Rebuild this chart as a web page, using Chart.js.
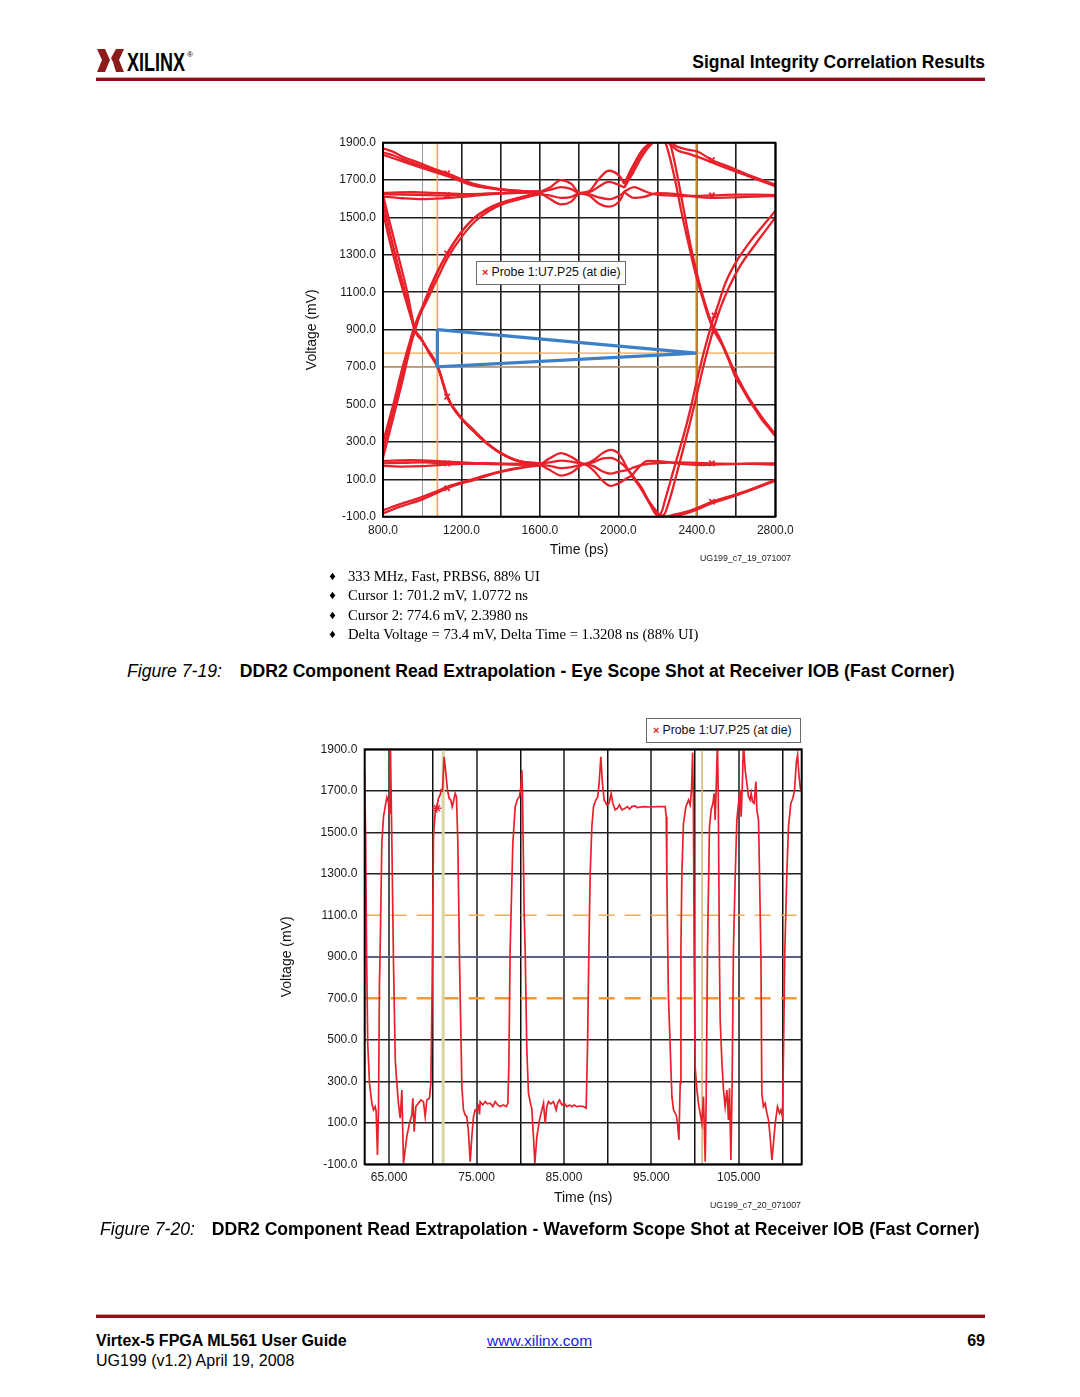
<!DOCTYPE html>
<html><head><meta charset="utf-8">
<script src="https://cdn.jsdelivr.net/npm/chart.js@4.4.1/dist/chart.umd.min.js"></script>
<style>
html,body{margin:0;padding:0;background:#fff}
body{width:1080px;height:1397px;position:relative;overflow:hidden;font-family:'Liberation Sans',Arial,Helvetica,sans-serif;color:#000}
.abs{position:absolute;white-space:nowrap;line-height:1}
.bul{position:absolute;left:328px;font-family:'Liberation Serif','Times New Roman',serif;font-size:14.7px;line-height:1;white-space:nowrap}
.bul span.d{display:inline-block;width:20px;font-family:'DejaVu Sans',sans-serif;font-size:10px;vertical-align:1px}
.cap{position:absolute;font-size:17.6px;line-height:1;white-space:nowrap}
.cap i{font-style:italic;font-weight:normal}
.cap b{font-weight:bold}
.leg{position:absolute;box-sizing:border-box;border:1.5px solid #6a6a6a;background:#fff;font-size:12.3px;line-height:21px;padding-left:5px;white-space:nowrap;color:#111}
.leg .x{color:#e8202a;font-size:11px;font-weight:bold;margin-right:3px}
canvas{position:absolute}
</style>
</head>
<body>
<svg class="abs" style="left:95px;top:46px" width="112" height="32">
  <polygon fill="#8c1b1b" points="2,3 10,3 15,14 10,26 2,26 7,14"/>
  <polygon fill="#8c1b1b" points="29,3 21,3 16,12 18,16 21,26 29,26 24,14"/>
  <text x="32" y="25" font-family="Liberation Sans Narrow, Liberation Sans, Arial" font-weight="bold" font-size="25" textLength="58" lengthAdjust="spacingAndGlyphs">XILINX</text>
  <text x="92" y="11" font-family="Liberation Sans, Arial" font-size="8">®</text>
</svg>
<div class="abs" style="right:95px;top:54px;font-size:17.5px;font-weight:bold">Signal Integrity Correlation Results</div>
<div class="abs" style="left:96px;top:77px;width:889px;height:1px;background:#d9a3a3"></div>
<div class="abs" style="left:96px;top:78px;width:889px;height:3px;background:#8e1016"></div>

<canvas id="eye" width="530" height="460" style="left:280px;top:120px;width:530px;height:460px"></canvas>
<div class="leg" style="left:476px;top:261px;width:150px;height:24px"><span class="x">×</span>Probe 1:U7.P25 (at die)</div>
<div class="abs" style="left:700px;top:553.6px;font-size:8.8px;color:#222">UG199_c7_19_071007</div>

<div class="bul" style="top:568.7px"><span class="d">♦</span>333 MHz, Fast, PRBS6, 88% UI</div>
<div class="bul" style="top:588.2px"><span class="d">♦</span>Cursor 1: 701.2 mV, 1.0772 ns</div>
<div class="bul" style="top:607.7px"><span class="d">♦</span>Cursor 2: 774.6 mV, 2.3980 ns</div>
<div class="bul" style="top:627.2px"><span class="d">♦</span>Delta Voltage = 73.4 mV, Delta Time = 1.3208 ns (88% UI)</div>

<div class="cap" style="left:127px;top:662.5px"><i>Figure 7-19:</i><b style="margin-left:18px">DDR2 Component Read Extrapolation - Eye Scope Shot at Receiver IOB (Fast Corner)</b></div>

<canvas id="wave" width="560" height="530" style="left:260px;top:700px;width:560px;height:530px"></canvas>
<div class="leg" style="left:646px;top:718px;width:155px;height:25px;line-height:22px;padding-left:6px"><span class="x">×</span>Probe 1:U7.P25 (at die)</div>
<div class="abs" style="left:710px;top:1200.6px;font-size:8.8px;color:#222">UG199_c7_20_071007</div>

<div class="cap" style="left:100px;top:1220.5px"><i>Figure 7-20:</i><b style="margin-left:17px">DDR2 Component Read Extrapolation - Waveform Scope Shot at Receiver IOB (Fast Corner)</b></div>

<div class="abs" style="left:96px;top:1314px;width:889px;height:1px;background:#d9a3a3"></div>
<div class="abs" style="left:96px;top:1315px;width:889px;height:3px;background:#8e1016"></div>
<div class="abs" style="left:96px;top:1332.8px;font-size:16px;font-weight:bold">Virtex-5 FPGA ML561 User Guide</div>
<div class="abs" style="left:96px;top:1352.8px;font-size:16px">UG199 (v1.2) April 19, 2008</div>
<div class="abs" style="left:487px;top:1333px;font-size:15.5px;color:#1a1aee;text-decoration:underline">www.xilinx.com</div>
<div class="abs" style="right:95px;top:1332.8px;font-size:16px;font-weight:bold">69</div>

<script>
// ---------------- Figure 7-19 : eye diagram data (time ps, voltage mV) ----------------
const eyeXTickValues = [800, 1200, 1600, 2000, 2400, 2800];
const eyeXTickLabels = ['800.0', '1200.0', '1600.0', '2000.0', '2400.0', '2800.0'];
const eyeGridTimes = [800, 1000, 1200, 1400, 1600, 1800, 2000, 2200, 2400, 2600, 2800];
const eyeLightGridTimes = [1000];
const eyeYTickValues = [-100, 100, 300, 500, 700, 900, 1100, 1300, 1500, 1700, 1900];
const eyeYTickLabels = ['-100.0', '100.0', '300.0', '500.0', '700.0', '900.0', '1100.0', '1300.0', '1500.0', '1700.0', '1900.0'];

const eyeTopTailA = [[800,1870],[850,1852],[900,1825],[990,1790],[1060,1760],[1127,1736],[1200,1705],[1263,1680],[1332,1664],[1434,1647],[1530,1640],[1605,1638]];
const eyeTopTailB = [[800,1848],[850,1833],[900,1812],[990,1778],[1060,1752],[1127,1728],[1200,1698],[1263,1675],[1332,1660],[1434,1645],[1530,1640],[1605,1638]];
const eyeTopTailC = [[800,1835],[900,1800],[990,1768],[1127,1722],[1263,1670],[1400,1650],[1605,1636]];
const eyeHighFlatA = [[800,1625],[900,1622],[1000,1620],[1100,1618],[1200,1622],[1300,1625],[1400,1630],[1500,1632],[1605,1636]];
const eyeHighFlatB = [[800,1612],[900,1603],[1000,1598],[1100,1602],[1200,1610],[1300,1620],[1400,1628],[1500,1633],[1605,1636]];
const eyeHighFlatC = [[800,1632],[950,1635],[1100,1630],[1250,1625],[1400,1630],[1605,1640]];
const eyeRiseLeftA = [[800,257],[850,460],[900,660],[955,900],[1024,1076],[1075,1202],[1127,1308],[1195,1415],[1263,1496],[1332,1542],[1400,1574],[1503,1604],[1605,1625]];
const eyeRiseLeftB = [[800,300],[850,490],[900,700],[960,910],[1030,1070],[1080,1180],[1130,1285],[1200,1395],[1270,1480],[1340,1535],[1420,1575],[1520,1605],[1605,1630]];
const eyeRiseLeftC = [[800,215],[850,420],[900,630],[950,850],[1015,1060],[1070,1195],[1125,1300],[1190,1410],[1260,1492],[1330,1545],[1400,1578],[1500,1608],[1605,1636]];
const eyeFallLeftA = [[800,1620],[827,1504],[870,1326],[921,1112],[964,899],[990,860],[1024,800],[1075,715],[1127,542],[1195,435],[1263,363],[1332,292],[1400,239],[1486,200],[1571,185],[1605,182]];
const eyeFallLeftB = [[800,1580],[830,1440],[875,1250],[925,1050],[960,905],[995,850],[1030,790],[1080,700],[1130,535],[1200,425],[1270,350],[1340,285],[1410,235],[1490,198],[1605,184]];
const eyeFallLeftC = [[800,1530],[835,1370],[880,1190],[930,1010],[970,880],[1000,840],[1035,775],[1085,685],[1135,525],[1205,418],[1275,343],[1345,278],[1420,228],[1500,195],[1605,186]];
const eyeLowFlatA = [[800,185],[900,188],[1000,190],[1100,187],[1200,185],[1300,183],[1400,180],[1500,178],[1605,180]];
const eyeLowFlatB = [[800,172],[900,168],[1000,170],[1100,177],[1200,183],[1300,186],[1400,184],[1500,180],[1605,176]];
const eyeLowFlatC = [[800,198],[950,202],[1100,196],[1250,188],[1400,182],[1605,184]];
const eyeBottomTailA = [[800,-82],[887,-47],[990,-11],[1060,20],[1127,52],[1200,78],[1263,96],[1332,120],[1400,140],[1537,167],[1605,175]];
const eyeBottomTailB = [[800,-66],[887,-33],[990,2],[1060,30],[1127,60],[1200,84],[1263,102],[1332,124],[1400,143],[1537,169],[1605,177]];

const eyeHighMidA = [[1605,1638],[1650,1660],[1708,1700],[1760,1680],[1802,1632],[1850,1640],[1900,1705],[1950,1750],[2007,1720],[2030,1680]];
const eyeHighMidB = [[1605,1630],[1650,1600],[1708,1570],[1760,1585],[1802,1628],[1850,1618],[1900,1575],[1950,1558],[2007,1590],[2030,1640]];
const eyeHighMidC = [[1605,1636],[1650,1648],[1708,1662],[1760,1652],[1802,1630],[1850,1634],[1900,1665],[1950,1690],[2007,1672],[2030,1660]];
const eyeHighMidD = [[1605,1625],[1650,1618],[1708,1605],[1760,1610],[1802,1630],[1850,1625],[1900,1608],[1950,1598],[2007,1618],[2030,1635]];
const eyeLowMidA = [[1605,180],[1650,212],[1708,240],[1760,220],[1826,182],[1870,200],[1920,240],[1960,257],[2007,230],[2050,150],[2070,118]];
const eyeLowMidB = [[1605,176],[1650,150],[1708,120],[1760,135],[1826,180],[1870,150],[1920,92],[1960,65],[2007,82],[2050,110],[2070,118]];
const eyeLowMidC = [[1605,184],[1650,190],[1708,200],[1760,195],[1826,182],[1870,190],[1920,212],[1960,215],[2007,192],[2050,150],[2070,122]];
const eyeLowMidD = [[1605,178],[1650,172],[1708,160],[1760,165],[1826,180],[1870,172],[1920,142],[1960,130],[2007,142],[2050,150],[2070,160]];

const eyeTopArcA = [[2030,1680],[2067,1760],[2118,1850],[2169,1905],[2212,1935],[2255,1920],[2289,1885],[2340,1866],[2409,1850],[2477,1807],[2562,1772],[2665,1727],[2800,1676]];
const eyeTopArcB = [[2030,1660],[2075,1740],[2125,1835],[2175,1900],[2220,1930],[2260,1895],[2300,1860],[2360,1840],[2430,1815],[2477,1795],[2562,1760],[2665,1720],[2800,1668]];
const eyeFallRightA = [[2030,1680],[2118,1855],[2169,1905],[2212,1935],[2240,1900],[2260,1830],[2289,1700],[2323,1522],[2357,1362],[2391,1210],[2426,1080],[2460,965],[2490,890],[2528,820],[2562,739],[2596,649],[2631,587],[2665,524],[2699,471],[2733,417],[2768,373],[2800,330]];
const eyeFallRightB = [[2030,1660],[2110,1830],[2160,1895],[2230,1935],[2262,1900],[2290,1780],[2330,1560],[2370,1340],[2410,1160],[2445,1030],[2478,930],[2510,870],[2545,790],[2580,705],[2620,620],[2660,545],[2700,480],[2740,420],[2780,368],[2800,345]];
const eyeHighFlatRightA = [[2030,1640],[2080,1662],[2130,1642],[2180,1625],[2250,1618],[2350,1615],[2477,1618],[2600,1622],[2700,1622],[2800,1620]];
const eyeHighFlatRightB = [[2030,1635],[2080,1605],[2130,1610],[2200,1630],[2300,1625],[2400,1610],[2477,1605],[2600,1608],[2700,1612],[2800,1615]];
const eyeBottomArcA = [[2070,118],[2110,60],[2150,-10],[2185,-60],[2204,-85],[2240,-98],[2289,-88],[2374,-64],[2477,-20],[2562,7],[2665,43],[2800,97]];
const eyeBottomArcB = [[2070,122],[2120,50],[2160,-30],[2200,-92],[2240,-108],[2300,-95],[2380,-70],[2477,-28],[2562,0],[2665,38],[2800,92]];
const eyeRiseRightA = [[2070,118],[2110,60],[2150,-10],[2185,-60],[2204,-90],[2222,-70],[2238,-11],[2272,114],[2306,239],[2340,363],[2374,506],[2409,667],[2443,809],[2477,934],[2511,1041],[2545,1148],[2596,1255],[2665,1362],[2733,1451],[2800,1535]];
const eyeRiseRightB = [[2070,122],[2120,50],[2160,-30],[2200,-95],[2230,-92],[2255,-30],[2290,100],[2325,240],[2360,380],[2395,530],[2430,690],[2460,810],[2490,920],[2525,1030],[2565,1130],[2620,1240],[2690,1345],[2750,1430],[2800,1500]];
const eyeLowFlatRightA = [[2070,160],[2110,175],[2150,182],[2200,186],[2300,190],[2400,188],[2477,185],[2600,183],[2700,185],[2800,185]];
const eyeLowFlatRightB = [[2070,122],[2100,160],[2150,198],[2220,196],[2320,182],[2420,176],[2520,180],[2650,182],[2800,178]];

const eyeMarkerTimes = [1127, 1127, 1127, 1127, 1127, 1127, 2477, 2477, 2490, 2490, 2477, 2477];
const eyeMarkerVolts = [1736, 1620, 1308, 542, 185, 52, 1807, 1618, 975, 890, 185, -20];

const eyeCursorTimes = [1077.2, 2398.0];   // Cursor 1, Cursor 2 (ps)
const eyeCursorVolts = [701.2, 774.6];     // Cursor 1, Cursor 2 (mV)
const eyeMaskPoints = [[1077.2, 900], [1077.2, 701.2], [2398.0, 774.6], [1077.2, 900]];

// ---------------- Figure 7-20 : waveform data (time ns, voltage mV) ----------------
const waveXTickValues = [65, 75, 85, 95, 105];
const waveXTickLabels = ['65.000', '75.000', '85.000', '95.000', '105.000'];
const waveGridTimes = [65, 70, 75, 80, 85, 90, 95, 100, 105, 110];
const waveYTickValues = [-100, 100, 300, 500, 700, 900, 1100, 1300, 1500, 1700, 1900];
const waveYTickLabels = ['-100.0', '100.0', '300.0', '500.0', '700.0', '900.0', '1100.0', '1300.0', '1500.0', '1700.0', '1900.0'];
const waveThresholds = [1100, 700];
const waveRefLevel = [900];
const waveCursorTimes = [71.18, 100.8];
const waveMarker = [[70.46, 1616]];
const waveTrace = [[62.17,1800],[62.30,1500],[62.42,900],[62.55,480],[62.75,290],[63.02,194],[63.20,162],[63.40,178],[63.51,154],[63.66,-55],[63.78,162],[63.89,772],[63.97,933],[64.16,1447],[64.35,1575],[64.54,1623],[64.74,1669],[64.92,1648],[65.00,1592],[65.08,1930],[65.14,1930],[65.31,1447],[65.49,885],[65.70,400],[65.88,290],[66.06,194],[66.26,122],[66.45,258],[66.64,-95],[66.83,-31],[67.02,33],[67.32,98],[67.60,138],[67.71,218],[67.86,57],[68.05,178],[68.35,194],[68.63,210],[68.92,202],[69.12,130],[69.31,210],[69.61,218],[69.77,290],[69.92,772],[70.07,1479],[70.26,1592],[70.46,1623],[70.64,1664],[70.84,1680],[70.95,1704],[71.10,1700],[71.29,1864],[71.49,1784],[71.67,1704],[71.86,1664],[72.06,1656],[72.21,1623],[72.36,1648],[72.55,1688],[72.70,1672],[72.86,1447],[73.05,885],[73.32,274],[73.50,162],[73.70,138],[73.89,130],[74.07,57],[74.27,-87],[74.46,33],[74.65,130],[74.84,162],[75.03,154],[75.22,178],[75.34,140],[75.41,202],[75.72,186],[75.98,202],[76.25,191],[76.56,194],[76.86,178],[77.13,202],[77.43,186],[77.70,178],[78.08,186],[78.39,178],[78.58,194],[78.69,370],[78.84,930],[79.15,1447],[79.42,1623],[79.68,1659],[79.91,1672],[80.07,1720],[80.18,1800],[80.25,1704],[80.45,1100],[80.56,933],[80.75,451],[80.94,242],[81.21,186],[81.32,170],[81.51,33],[81.67,-95],[81.90,33],[82.20,114],[82.47,162],[82.66,194],[82.85,98],[83.04,178],[83.23,202],[83.50,191],[83.80,202],[84.11,162],[84.26,194],[84.49,210],[84.76,186],[85.02,194],[85.33,178],[85.63,186],[85.90,178],[86.17,186],[86.48,178],[86.86,181],[87.23,178],[87.54,170],[87.69,451],[87.85,933],[88.00,1300],[88.19,1527],[88.38,1623],[88.65,1656],[88.87,1672],[89.02,1736],[89.22,1864],[89.40,1736],[89.60,1656],[89.91,1632],[90.17,1640],[90.40,1688],[90.59,1640],[90.86,1608],[91.12,1616],[91.35,1632],[91.62,1608],[92.00,1616],[92.27,1624],[92.50,1611],[92.77,1624],[93.15,1627],[93.34,1619],[94.10,1624],[94.86,1622],[95.63,1624],[96.58,1624],[96.70,1575],[96.77,1286],[96.89,885],[96.96,700],[97.35,226],[97.53,162],[97.84,138],[97.99,98],[98.15,17],[98.30,290],[98.38,933],[98.49,1300],[98.67,1543],[98.95,1623],[99.25,1656],[99.44,1632],[99.59,1704],[99.72,1885],[99.80,1690],[99.90,885],[100.01,370],[100.21,258],[100.39,194],[100.58,146],[100.78,98],[100.96,226],[101.16,-87],[101.27,210],[101.42,933],[101.65,1527],[101.84,1608],[102.04,1640],[102.19,1688],[102.30,1559],[102.41,1704],[102.56,1930],[102.65,1700],[102.79,885],[102.87,600],[103.06,403],[103.25,258],[103.44,178],[103.64,258],[103.82,114],[103.94,266],[104.10,-79],[104.24,290],[104.39,933],[104.60,1300],[104.78,1559],[104.97,1640],[105.16,1704],[105.27,1575],[105.39,1704],[105.54,1930],[105.73,1800],[105.93,1736],[106.11,1672],[106.30,1656],[106.42,1688],[106.57,1648],[106.76,1640],[106.96,1744],[107.07,1608],[107.26,1559],[107.38,1286],[107.54,885],[107.64,242],[107.82,178],[108.02,194],[108.22,146],[108.40,114],[108.59,33],[108.79,-79],[108.97,2],[109.17,98],[109.43,178],[109.66,146],[109.82,162],[110.00,130],[110.12,451],[110.27,933],[110.50,1300],[110.69,1527],[110.96,1640],[111.19,1664],[111.38,1704],[111.58,1833],[111.73,1873],[111.90,1768],[112.05,1712],[112.25,1690]];

// ---------------- styling & rendering ----------------
const RED = '#e8202a';
Chart.defaults.font.family = "'Liberation Sans', Arial, Helvetica, sans-serif";
Chart.defaults.font.size = 12;
Chart.defaults.color = '#1a1a1a';

const plotBox = {
  id: 'plotBox',
  afterDatasetsDraw(chart, args, opts) {
    const a = chart.chartArea, ctx = chart.ctx;
    ctx.save();
    ctx.strokeStyle = opts.color || '#000';
    ctx.lineWidth = opts.width || 2;
    ctx.strokeRect(a.left, a.top, a.right - a.left, a.bottom - a.top);
    ctx.restore();
  }
};

function lineDs(data, color, width, extra) {
  return Object.assign({ type: 'line', data: data, borderColor: color, backgroundColor: color,
    borderWidth: width, pointRadius: 0, fill: false, tension: 0 }, extra || {});
}
function labelFor(values, labels) {
  return function (v) { const i = values.indexOf(v); return i >= 0 ? labels[i] : ''; };
}
function zip(a, b) { return a.map((t, i) => [t, b[i]]); }

// ----- eye chart -----
const eyeStrands = [
  eyeTopTailA, eyeTopTailB, eyeTopTailC, eyeHighFlatA, eyeHighFlatB, eyeHighFlatC,
  eyeRiseLeftA, eyeRiseLeftB, eyeRiseLeftC, eyeFallLeftA, eyeFallLeftB, eyeFallLeftC,
  eyeLowFlatA, eyeLowFlatB, eyeLowFlatC, eyeBottomTailA, eyeBottomTailB,
  eyeHighMidA, eyeHighMidB, eyeHighMidC, eyeHighMidD, eyeLowMidA, eyeLowMidB, eyeLowMidC, eyeLowMidD,
  eyeTopArcA, eyeTopArcB, eyeFallRightA, eyeFallRightB, eyeHighFlatRightA, eyeHighFlatRightB,
  eyeBottomArcA, eyeBottomArcB, eyeRiseRightA, eyeRiseRightB, eyeLowFlatRightA, eyeLowFlatRightB
];
const eyeDatasets = [];
eyeDatasets.push(lineDs(eyeMaskPoints, '#3d7fc8', 3.2));
eyeDatasets.push(lineDs(zip(eyeMarkerTimes, eyeMarkerVolts), RED, 1.8,
  { showLine: false, pointRadius: 3.8, pointStyle: 'crossRot', pointBorderColor: RED, pointBorderWidth: 1.8 }));
eyeStrands.forEach(s => eyeDatasets.push(lineDs(s, RED, 2.3, { cubicInterpolationMode: 'monotone' })));
eyeDatasets.push(lineDs([[eyeCursorTimes[0], -100], [eyeCursorTimes[0], 1900]], '#f6a54a', 1.6));
eyeDatasets.push(lineDs([[eyeCursorTimes[1], -100], [eyeCursorTimes[1], 1900]], '#c8861e', 2));
eyeDatasets.push(lineDs([[800, eyeCursorVolts[1]], [2800, eyeCursorVolts[1]]], '#f5a545', 1.3));
eyeDatasets.push(lineDs([[800, eyeCursorVolts[0]], [2800, eyeCursorVolts[0]]], '#f2c08c', 1.3));

new Chart(document.getElementById('eye'), {
  type: 'line',
  data: { datasets: eyeDatasets },
  options: {
    responsive: false, animation: false, devicePixelRatio: 1, events: [],
    layout: { padding: { left: 0, top: 22.7, right: 34.7, bottom: 0 } },
    plugins: { legend: { display: false }, tooltip: { enabled: false }, plotBox: { width: 2 } },
    scales: {
      x: {
        type: 'linear', min: 800, max: 2800,
        afterBuildTicks: s => { s.ticks = eyeGridTimes.map(v => ({ value: v })); },
        afterFit: s => { s.height = 63.3; },
        ticks: { autoSkip: false, maxRotation: 0, padding: 7, callback: labelFor(eyeXTickValues, eyeXTickLabels) },
        grid: { drawTicks: false,
          color: c => (c.tick && eyeLightGridTimes.includes(c.tick.value)) ? '#9a9a9a' : '#1e1e1e',
          lineWidth: c => (c.tick && eyeLightGridTimes.includes(c.tick.value)) ? 1 : 1.6 },
        border: { display: false },
        title: { display: true, text: 'Time (ps)', font: { size: 14 }, color: '#111', padding: { top: 0, bottom: 21.6 } }
      },
      y: {
        type: 'linear', min: -100, max: 1900,
        afterBuildTicks: s => { s.ticks = eyeYTickValues.map(v => ({ value: v })); },
        afterFit: s => { s.width = 103; },
        ticks: { autoSkip: false, padding: 7, callback: labelFor(eyeYTickValues, eyeYTickLabels) },
        grid: { drawTicks: false, color: '#1e1e1e', lineWidth: 1.6 },
        border: { display: false },
        title: { display: true, text: 'Voltage (mV)', font: { size: 14 }, color: '#111', padding: { top: 23.6, bottom: 0 } }
      }
    }
  },
  plugins: [plotBox]
});

// ----- waveform chart -----
const waveDatasets = [];
waveDatasets.push(lineDs(waveTrace, RED, 1.7));
waveDatasets.push(lineDs(waveMarker, RED, 1.3, { showLine: false, pointRadius: 4.5, pointStyle: 'star', pointBorderColor: RED, pointBorderWidth: 1.3 }));
waveDatasets.push(lineDs([[waveCursorTimes[0], -100], [waveCursorTimes[0], 1900]], '#d8d69e', 3));
waveDatasets.push(lineDs([[waveCursorTimes[1], -100], [waveCursorTimes[1], 1900]], '#d9b170', 1.5));
waveDatasets.push(lineDs([[62.2, waveThresholds[0]], [112.2, waveThresholds[0]]], '#f6ab5a', 1.6, { borderDash: [16, 10] }));
waveDatasets.push(lineDs([[62.2, waveThresholds[1]], [112.2, waveThresholds[1]]], '#f59a30', 2.4, { borderDash: [16, 10] }));

new Chart(document.getElementById('wave'), {
  type: 'line',
  data: { datasets: waveDatasets },
  options: {
    responsive: false, animation: false, devicePixelRatio: 1, events: [],
    layout: { padding: { left: 0, top: 49.3, right: 18.3, bottom: 0 } },
    plugins: { legend: { display: false }, tooltip: { enabled: false }, plotBox: { width: 2 } },
    scales: {
      x: {
        type: 'linear', min: 62.2, max: 112.2,
        afterBuildTicks: s => { s.ticks = waveGridTimes.map(v => ({ value: v })); },
        afterFit: s => { s.height = 65.7; },
        ticks: { autoSkip: false, maxRotation: 0, padding: 6, callback: labelFor(waveXTickValues, waveXTickLabels) },
        grid: { drawTicks: false,
          color: c => (c.tick && waveXTickValues.includes(c.tick.value)) ? '#555' : '#111',
          lineWidth: c => (c.tick && waveXTickValues.includes(c.tick.value)) ? 2 : 1.5 },
        border: { display: false },
        title: { display: true, text: 'Time (ns)', font: { size: 14 }, color: '#111', padding: { top: 0, bottom: 23.6 } }
      },
      y: {
        type: 'linear', min: -100, max: 1900,
        afterBuildTicks: s => { s.ticks = waveYTickValues.map(v => ({ value: v })); },
        afterFit: s => { s.width = 104.7; },
        ticks: { autoSkip: false, padding: 7.4, callback: labelFor(waveYTickValues, waveYTickLabels) },
        grid: { drawTicks: false,
          color: c => {
            if (!c.tick) return '#222';
            if (waveThresholds.includes(c.tick.value)) return 'rgba(0,0,0,0)';
            if (waveRefLevel.includes(c.tick.value)) return '#5c5f86';
            return '#222';
          },
          lineWidth: c => (c.tick && waveRefLevel.includes(c.tick.value)) ? 2 : 1.5 },
        border: { display: false },
        title: { display: true, text: 'Voltage (mV)', font: { size: 14 }, color: '#111', padding: { top: 18.3, bottom: 0 } }
      }
    }
  },
  plugins: [plotBox]
});
</script>
</body></html>
